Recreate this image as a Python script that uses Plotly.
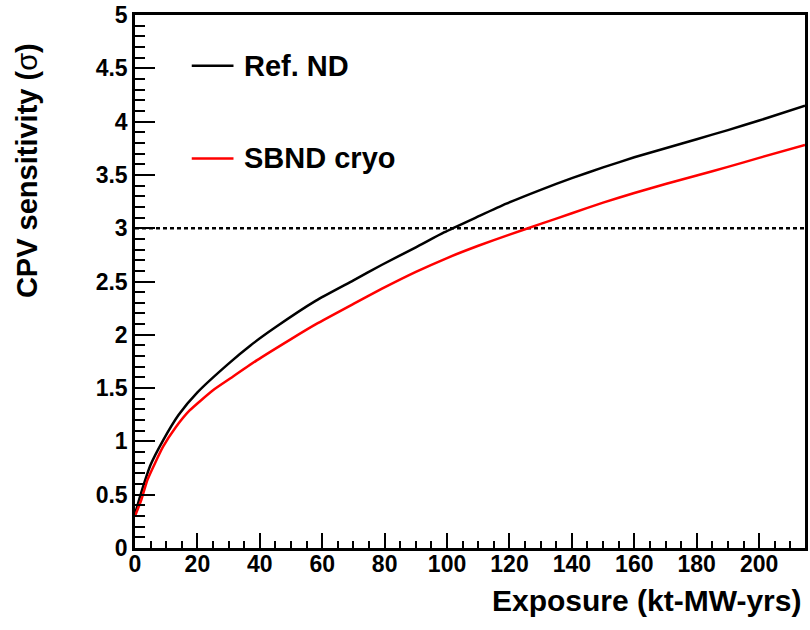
import plotly.graph_objects as go

# ---- data ----
ref_nd_x = [0, 2, 5, 9, 14, 20, 30, 37, 45, 58, 70, 79, 90, 99, 110, 119, 130, 140, 150, 160, 170, 180, 190, 200, 214.7]
ref_nd_y = [0.32, 0.52, 0.78, 1.01, 1.25, 1.46, 1.73, 1.90, 2.07, 2.32, 2.51, 2.655, 2.82, 2.96, 3.11, 3.23, 3.36, 3.47, 3.57, 3.665, 3.75, 3.835, 3.92, 4.01, 4.15]

sbnd_x = [0, 2, 4, 9, 13, 17.5, 25, 31, 39, 50, 58, 70, 79, 90, 100, 110, 120, 130, 140, 150, 160, 170, 180, 190, 200, 214.7]
sbnd_y = [0.30, 0.45, 0.64, 0.95, 1.13, 1.29, 1.48, 1.60, 1.76, 1.96, 2.10, 2.29, 2.43, 2.59, 2.72, 2.835, 2.94, 3.04, 3.14, 3.24, 3.33, 3.415, 3.495, 3.575, 3.66, 3.78]

threshold_x = [0, 214.7]
threshold_y = [3, 3]

series_names = ["Ref. ND", "SBND cryo"]
series_colors = ["#000000", "#ff0000"]

x_title = "Exposure (kt-MW-yrs)"
y_title = "<b>CPV sensitivity (</b><span style='font-weight:normal'>σ</span><b>)</b>"

FONT = "Liberation Sans"

fig = go.Figure()
fig.add_trace(go.Scatter(x=threshold_x, y=threshold_y, mode="lines",
                         line=dict(color="#000000", width=2.5, dash="4px,3px"),
                         showlegend=False, hoverinfo="skip"))
fig.add_trace(go.Scatter(x=ref_nd_x, y=ref_nd_y, mode="lines", name=series_names[0],
                         line=dict(color=series_colors[0], width=2.5, shape="spline", smoothing=0.5),
                         showlegend=False))
fig.add_trace(go.Scatter(x=sbnd_x, y=sbnd_y, mode="lines", name=series_names[1],
                         line=dict(color=series_colors[1], width=2.5, shape="spline", smoothing=0.5),
                         showlegend=False))

# manual legend (layout decoration)
leg_rows = [0.905, 0.731]
for name, color, yy in zip(series_names, series_colors, leg_rows):
    fig.add_shape(type="line", xref="paper", yref="paper",
                  x0=0.0847, x1=0.147, y0=yy, y1=yy,
                  line=dict(color=color, width=2.5))
    fig.add_annotation(xref="paper", yref="paper", x=0.160, y=yy,
                       xanchor="left", yanchor="middle", showarrow=False,
                       text=name, font=dict(family=FONT, size=29, color="#000000", weight="bold"))

fig.add_annotation(xref="paper", yref="paper", x=0.997, y=-0.099,
                   xanchor="right", yanchor="middle", showarrow=False,
                   text=x_title, font=dict(family=FONT, size=30, color="#000000", weight="bold"))
fig.add_annotation(xref="paper", yref="paper", x=-0.162, y=0.708,
                   xanchor="center", yanchor="middle", showarrow=False, textangle=-90,
                   text=y_title, font=dict(family=FONT, size=29, color="#000000", weight="bold"))

fig.update_xaxes(range=[0, 214.7], dtick=20, tick0=0, ticks="inside", ticklen=15, tickwidth=2,
                 tickcolor="#000000", showline=True, linewidth=2.5, linecolor="#000000", mirror=True,
                 showgrid=False, zeroline=False,
                 tickfont=dict(family=FONT, size=23, color="#000000", weight="bold"),
                 ticklabelstandoff=-6,
                 minor=dict(dtick=5, ticks="inside", ticklen=7, tickwidth=2, tickcolor="#000000", showgrid=False))
fig.update_yaxes(range=[0, 5], dtick=0.5, tick0=0, ticks="inside", ticklen=20, tickwidth=2,
                 tickcolor="#000000", showline=True, linewidth=2.5, linecolor="#000000", mirror=True,
                 showgrid=False, zeroline=False,
                 tickfont=dict(family=FONT, size=23, color="#000000", weight="bold"),
                 ticklabelstandoff=0,
                 minor=dict(dtick=0.1, ticks="inside", ticklen=10, tickwidth=2, tickcolor="#000000", showgrid=False))

fig.update_layout(width=810, height=630, margin=dict(l=135, r=2, t=13, b=82),
                  paper_bgcolor="#ffffff", plot_bgcolor="#ffffff", showlegend=False)

fig.write_html("out.html")
